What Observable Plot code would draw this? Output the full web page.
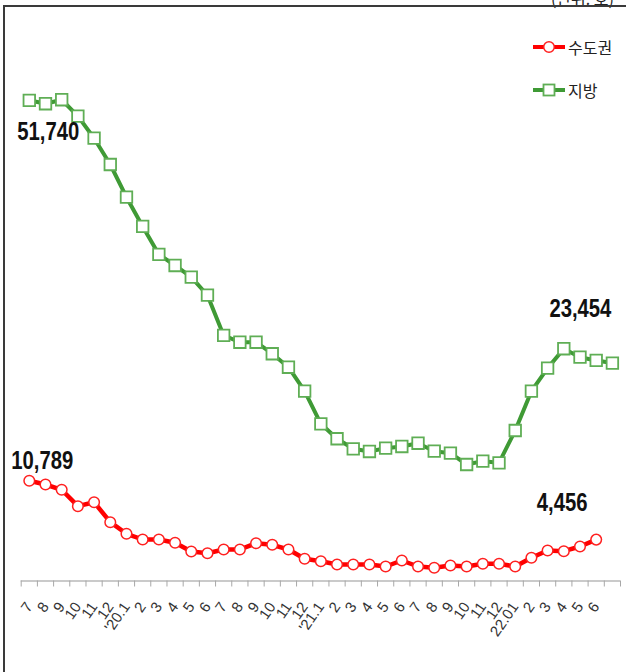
<!DOCTYPE html>
<html><head><meta charset="utf-8">
<script src="https://cdn.jsdelivr.net/npm/d3@7"></script>
<script src="https://cdn.jsdelivr.net/npm/@observablehq/plot@0.6"></script>
<style>
html,body{margin:0;padding:0;background:#fff;}
#wrap{position:relative;width:626px;height:672px;overflow:hidden;}
#frame{position:absolute;left:3px;top:5px;right:-4px;bottom:-4px;border-left:2px solid #3a3a3a;border-top:2px solid #3a3a3a;pointer-events:none;}
#unit{position:absolute;right:12px;top:-14px;font:16px "Noto Sans CJK KR",sans-serif;color:#222;}
.leg{position:absolute;left:532px;display:flex;align-items:center;font:16px "Noto Sans CJK KR",sans-serif;color:#222;}
</style></head>
<body><div id="wrap"><div id="unit">(단위: 호)</div><div id="frame"></div></div>
<script>
const labels = ["7","8","9","10","11","12","'20.1","2","3","4","5","6","7","8","9","10","11","12","'21.1","2","3","4","5","6","7","8","9","10","11","12","22.01","2","3","4","5","6"];
const metro = [10789,10387,9817,8052,8482,6329,5081,4467,4467,4112,3175,2992,3391,3391,4069,3897,3391,2390,2131,1776,1776,1776,1561,2207,1561,1421,1668,1561,1851,1851,1561,2497,3283,3208,3714,4456];
const local = [51740,51370,51800,50030,47660,44830,41310,38160,35150,33960,32700,30760,26430,25700,25700,24460,23010,20430,16920,15310,14230,13940,14300,14480,14830,13970,13760,12540,12900,12720,16200,20430,22910,25000,24090,23740,23454];
const seriesNames = ["수도권","지방"];
const seriesColors = ["#ff0000","#3f9a35"];
const markerColors = ["#ff2020","#5fae55"];

const nCat = Math.max(metro.length, local.length);
const mData = metro.map((v,i)=>({x:i+0.5,y:v}));
const lData = local.map((v,i)=>({x:i+0.5,y:v}));
const fmt = d3.format(",");
const labFont = '"Liberation Sans",Arial,sans-serif';
const labOpts = {x:"x",y:"y",text:d=>fmt(d.y),fontSize:26,fontWeight:"bold",fontFamily:labFont,fill:"#111"};

const chart = Plot.plot({
  width:626, height:672,
  marginLeft:20.7, marginRight:6, marginTop:69.5, marginBottom:91.5,
  style:{fontFamily:'"Liberation Sans",sans-serif', background:"transparent"},
  x:{type:"linear", domain:[0,nCat]},
  y:{domain:[0,55000]},
  marks:[
    Plot.axisY({ticks:[], tickSize:0, label:null}),
    Plot.ruleY([0],{stroke:"#b8b8b8", strokeWidth:1.5}),
    Plot.axisX({ticks:d3.range(nCat+1), tickSize:6, tickFormat:()=> "", stroke:"#a8a8a8", label:null}),
    Plot.axisX({ticks:labels.map((d,i)=>i+0.5), tickSize:0, tickPadding:23, tickRotate:-55,
      tickFormat:(d)=>labels[Math.floor(d)], fontSize:15, fill:"#333", label:null}),
    Plot.line(lData,{x:"x",y:"y",stroke:seriesColors[1],strokeWidth:4}),
    Plot.dot(lData,{x:"x",y:"y",symbol:"square",r:6.5,fill:"#fff",stroke:markerColors[1],strokeWidth:1.8}),
    Plot.line(mData,{x:"x",y:"y",stroke:seriesColors[0],strokeWidth:4.5}),
    Plot.dot(mData,{x:"x",y:"y",symbol:"circle",r:5.3,fill:"#fff",stroke:markerColors[0],strokeWidth:1.5}),
    Plot.text([lData[0]],{...labOpts,dx:19,dy:31}),
    Plot.text([lData[lData.length-1]],{...labOpts,dx:-32,dy:-54}),
    Plot.text([mData[0]],{...labOpts,dx:13,dy:-20}),
    Plot.text([mData[mData.length-1]],{...labOpts,dx:-34,dy:-37})
  ]
});
// condense the bold value labels horizontally
d3.select(chart).selectAll("text").each(function(){
  const t=this;
  if (t.getAttribute("font-size")!=="26" && !(t.parentNode && t.parentNode.getAttribute && t.parentNode.getAttribute("font-size")==="26")) return;
  const tr=t.getAttribute("transform");
  if (tr) t.setAttribute("transform", tr+" scale(0.78,1)");
  else {
    const x=+t.getAttribute("x")||0, y=+t.getAttribute("y")||0;
    t.setAttribute("transform",`translate(${x},${y}) scale(0.78,1) translate(${-x},${-y})`);
  }
});
const wrap = document.getElementById("wrap");
chart.style.position="absolute"; chart.style.left="0"; chart.style.top="0";
wrap.insertBefore(chart, wrap.firstChild);

const legTops=[35,78];
seriesNames.forEach((name,i)=>{
  const div=document.createElement("div");
  div.className="leg"; div.style.top=legTops[i]+"px";
  const sym = i===0
    ? `<circle cx="17" cy="10" r="5.3" fill="#fff" stroke="${markerColors[0]}" stroke-width="1.5"/>`
    : `<rect x="11.5" y="4.5" width="11" height="11" fill="#fff" stroke="${markerColors[1]}" stroke-width="1.8"/>`;
  div.innerHTML=`<svg width="34" height="20"><line x1="1" x2="33" y1="10" y2="10" stroke="${seriesColors[i]}" stroke-width="4"/>${sym}</svg><span style="margin-left:2px">${name}</span>`;
  wrap.appendChild(div);
});
</script></body></html>
